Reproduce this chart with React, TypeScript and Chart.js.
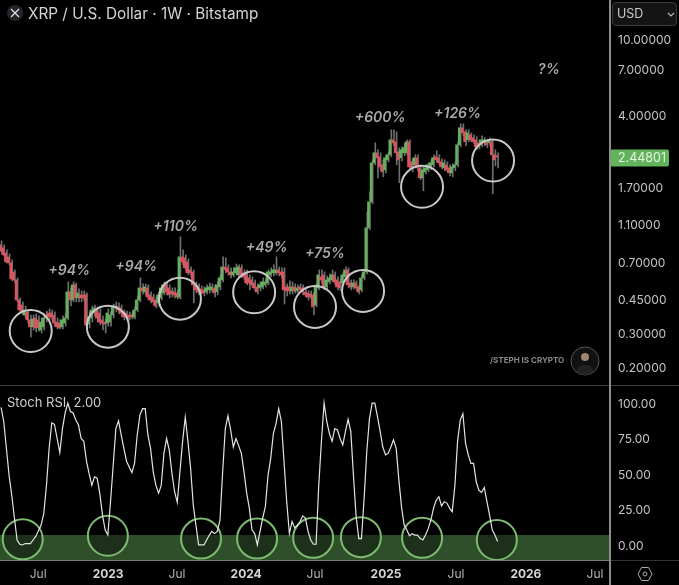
import { useEffect, useRef } from 'react';
import { Chart, registerables } from 'chart.js';

Chart.register(...registerables);

const FONT = 'Inter, "Noto Sans", sans-serif';

// weekly candles
const opens = [
  .859, .829, .780, .744, .693, .622, .565, .445, .419, .372, .386, .351, .323, .359, .351, .311, .323, .359, .381, .381,
  .372, .342, .338, .323, .338, .359, .490, .445, .533, .456, .473, .473, .473, .334, .359, .381, .395, .381, .351, .342,
  .338, .342, .372, .405, .410, .405, .381, .381, .372, .372, .363, .395, .445, .514, .490, .514, .473, .461, .445, .430,
  .456, .484, .533, .514, .496, .490, .484, .461, .744, .735, .701, .637, .622, .533, .520, .508, .502, .490, .502, .502,
  .514, .490, .520, .565, .660, .653, .622, .600, .615, .600, .653, .615, .615, .579, .565, .545, .520, .514, .520, .533,
  .545, .600, .615, .615, .637, .622, .622, .520, .520, .496, .520, .496, .520, .514, .490, .484, .478, .473, .419, .514,
  .586, .600, .520, .552, .565, .600, .565, .552, .545, .586, .637, .545, .520, .545, .520, .502, .579, .622, 1.052, 1.434,
  2.285, 2.575, 2.455, 2.231, 2.10, 2.368, 2.515, 3.007, 2.936, 2.606, 2.426, 2.575, 2.575, 2.936, 2.312, 2.231, 2.426, 2.152, 1.91, 2.052,
  2.10, 2.152, 2.231, 2.455, 2.426, 2.312, 2.152, 2.231, 2.152, 2.027, 2.152, 2.231, 2.834, 3.47, 3.309, 3.007, 3.193, 3.08, 3.007, 2.90,
  2.834, 2.90, 2.936, 2.90, 2.936, 2.515, 2.49,
];
const closes = [
  .799, .762, .701, .693, .572, .565, .445, .395, .386, .395, .351, .323, .355, .319, .319, .342, .359, .372, .363, .363,
  .338, .323, .319, .351, .359, .490, .445, .533, .456, .484, .456, .456, .330, .363, .395, .405, .359, .342, .338, .334,
  .381, .372, .410, .414, .395, .381, .363, .363, .359, .363, .395, .445, .514, .496, .520, .461, .445, .435, .414, .473,
  .514, .533, .490, .473, .478, .473, .461, .744, .701, .653, .615, .615, .533, .502, .490, .490, .484, .514, .520, .520,
  .484, .533, .579, .660, .637, .622, .600, .622, .653, .660, .600, .586, .545, .545, .533, .514, .490, .533, .552, .552,
  .622, .622, .637, .637, .615, .600, .502, .496, .496, .520, .496, .514, .502, .490, .473, .461, .461, .410, .520, .600,
  .565, .520, .565, .579, .600, .552, .520, .514, .600, .637, .533, .520, .545, .514, .490, .579, .622, 1.052, 1.434, 2.285,
  2.575, 2.426, 2.178, 2.052, 2.426, 2.515, 3.007, 2.90, 2.575, 2.368, 2.67, 2.733, 2.936, 2.178, 2.152, 2.426, 2.152, 1.91, 2.10, 2.152,
  2.231, 2.285, 2.426, 2.368, 2.285, 2.178, 2.285, 2.10, 2.027, 2.178, 2.231, 2.834, 3.47, 3.27, 2.936, 3.27, 3.007, 2.936, 2.766, 2.766,
  3.007, 3.007, 2.834, 3.007, 2.515, 2.368, 2.448,
];
const highs = [
  .901, .859, .809, .771, .718, .637, .579, .456, .435, .414, .395, .372, .372, .377, .368, .359, .377, .390, .400, .395,
  .386, .359, .351, .368, .377, .552, .514, .552, .545, .508, .496, .496, .484, .386, .414, .419, .410, .400, .368, .355,
  .400, .386, .424, .435, .430, .419, .395, .390, .386, .381, .410, .467, .579, .539, .539, .533, .490, .478, .461, .490,
  .533, .552, .545, .533, .514, .514, .502, .945, .809, .762, .726, .660, .637, .552, .539, .526, .520, .533, .545, .539,
  .533, .552, .600, .744, .735, .676, .653, .653, .684, .676, .676, .637, .637, .600, .586, .565, .539, .552, .579, .572,
  .637, .653, .676, .744, .660, .653, .653, .539, .559, .552, .539, .533, .539, .533, .508, .496, .496, .484, .539, .637,
  .637, .622, .593, .607, .637, .622, .586, .572, .615, .660, .653, .565, .565, .559, .533, .600, .637, 1.273, 1.616, 2.368,
  2.90, 2.67, 2.575, 2.368, 2.515, 2.606, 3.39, 3.39, 3.309, 2.733, 2.766, 2.868, 3.007, 3.007, 2.397, 2.515, 2.515, 2.231, 2.178, 2.231,
  2.285, 2.368, 2.515, 2.638, 2.515, 2.397, 2.368, 2.312, 2.231, 2.258, 2.312, 2.936, 3.64, 3.64, 3.39, 3.39, 3.27, 3.193, 3.117, 3.007,
  3.155, 3.08, 3.007, 3.08, 3.007, 2.67, 2.575,
];
const lows = [
  .790, .753, .693, .676, .559, .552, .435, .381, .372, .359, .338, .286, .311, .304, .307, .300, .311, .342, .351, .351,
  .326, .315, .315, .315, .326, .351, .414, .435, .435, .435, .435, .440, .319, .319, .342, .368, .342, .330, .311, .300,
  .326, .326, .359, .386, .377, .368, .351, .355, .351, .355, .355, .386, .435, .478, .473, .445, .430, .419, .405, .414,
  .445, .473, .473, .456, .461, .456, .451, .451, .676, .637, .600, .586, .430, .484, .473, .478, .467, .478, .484, .490,
  .461, .473, .502, .552, .615, .600, .579, .586, .600, .586, .579, .565, .533, .502, .514, .496, .478, .496, .508, .520,
  .533, .586, .593, .600, .593, .579, .424, .467, .478, .478, .484, .484, .490, .473, .461, .445, .451, .372, .410, .502,
  .545, .502, .508, .539, .552, .533, .502, .496, .533, .572, .514, .502, .508, .502, .478, .490, .565, .607, 1.03, 1.40,
  2.231, 1.91, 2.10, 1.933, 2.027, 2.312, 2.455, 2.80, 2.231, 1.80, 2.34, 2.485, 2.515, 2.10, 2.052, 2.152, 2.076, 1.87, 1.636, 2.00,
  2.052, 2.10, 2.178, 2.312, 2.231, 2.127, 2.076, 2.052, 1.956, 1.933, 2.076, 2.178, 2.766, 3.155, 2.80, 2.936, 2.936, 2.868, 2.67, 2.70,
  2.766, 2.80, 2.733, 2.80, 1.579, 2.204, 2.152,
];

const stochValues = [
  97, 87, 68, 49, 35, 19, 3.5, 0.5, 0, 1, 1, 1, 3.5, 6, 10, 14, 22, 42, 68, 86,
  85, 75, 65, 82, 93, 100, 94, 93, 88, 84.5, 75, 73, 59, 50, 42, 48, 47, 36, 21, 10.5,
  7, 30.5, 56, 82, 87.5, 77.5, 68, 59, 55, 51, 57.5, 77.5, 91.5, 96, 96, 77.5, 68, 51.5, 42, 36.5,
  42, 64.5, 75, 67, 50.5, 37.5, 30, 51.5, 73, 90, 73, 54, 28, 14, 0, 0, 0, 3.5, 7, 9.5,
  8, 9.5, 17.5, 51.5, 82, 91, 81, 69, 75, 70, 64.5, 51.5, 36.5, 26, 10.5, 8, 0, 9.5, 19, 27,
  49, 61, 78.5, 85.5, 96, 87, 58.5, 30.5, 8, 16.5, 12, 14, 16.5, 20.5, 19, 9.5, 3.5, 0.5, 0.5, 42,
  73, 100, 87, 78.5, 73, 82, 81, 75, 70.5, 80, 88.5, 80, 49, 20, 4.5, 4.5, 33, 66, 89, 100,
  100, 90.5, 80, 69, 63.5, 64.5, 69, 74, 68, 46, 27, 14, 10.5, 6.5, 8, 7, 7, 4.5, 3.5, 7,
  11.5, 17.5, 26, 31.5, 34, 27.5, 30.5, 29.5, 26, 23.5, 42, 73, 88, 92.5, 71.5, 63.5, 57.5, 57.5, 44.5, 38.5,
  37, 40.5, 30.5, 21, 10.5, 7, 2.5,
];

const lastPrice = 2.44801;

const priceTicks = [10, 7, 4, 1.7, 1.1, 0.7, 0.45, 0.3, 0.2];
const stochTicks = [100, 75, 50, 25, 0];
const timeTickWeeks = [13.9, 40.1, 65.9, 91.8, 117.6, 144.2, 170.4, 196.6, 222.5];
const timeTickLabels = ['Jul', '2023', 'Jul', '2024', 'Jul', '2025', 'Jul', '2026', 'Jul'];

// marked lows on the price pane and the oscillator pane
const priceCircleWeeks = [11.1, 40, 67, 94.8, 117.6, 135.6, 157.7, 184.3];
const priceCircleValues = [.3074, .3237, .452, .488, .4095, .4957, 1.716, 2.348];
const stochCircleWeeks = [8.1, 40, 74.9, 95.9, 116.9, 134.8, 157.7, 185.7];
const stochCircleValues = [4, 6.5, 4.5, 4.5, 5, 5.5, 5, 3.5];

const moveLabels = ['+94%', '+94%', '+110%', '+49%', '+75%', '+600%', '+126%', '?%'];
const moveWeeks = [25.5, 50.6, 65.4, 99.5, 121.3, 142, 171, 205.2];
const movePrices = [.63, .663, 1.06, .833, .771, 3.91, 4.1, 6.94];

const X_MIN = -0.4;
const X_MAX = 228.1;
const STOCH_MIN = -11.3;
const STOCH_MAX = 112.7;
const BAND_TOP = 7;

const UP = '#62b35c';
const DOWN = '#dd5460';

const isYearTick = (c: any) => {
  const label = timeTickLabels[timeTickWeeks.indexOf(c.tick?.value)];
  return !!label && label !== 'Jul';
};

// fixed width axis, and no room kept for half a label above and below the plot
const fitRightAxis = (scale: any) => {
  scale.width = 69;
  scale.paddingTop = 0;
  scale.paddingBottom = 0;
};

const priceOverlay = {
  id: 'priceOverlay',
  afterDatasetsDraw(chart: any) {
    const { ctx, scales } = chart;
    ctx.save();
    ctx.font = `italic 600 14px ${FONT}`;
    ctx.fillStyle = '#a9a9a9';
    ctx.textAlign = 'center';
    ctx.textBaseline = 'middle';
    moveLabels.forEach((t, i) => {
      ctx.fillText(t, scales.x.getPixelForValue(moveWeeks[i]), scales.y.getPixelForValue(movePrices[i]));
    });
    ctx.restore();
  },
  afterDraw(chart: any) {
    const { ctx, scales } = chart;
    const y = scales.y.getPixelForValue(lastPrice) + 1;
    ctx.save();
    ctx.fillStyle = UP;
    ctx.beginPath();
    ctx.roundRect(610, y - 8.5, 59, 17, 2);
    ctx.fill();
    ctx.font = `12.5px ${FONT}`;
    ctx.fillStyle = '#e6f4e3';
    ctx.textBaseline = 'middle';
    ctx.fillText(lastPrice.toFixed(5), 618, y + 0.5);
    ctx.restore();
  },
};

function PriceChart() {
  const ref = useRef<HTMLCanvasElement>(null);
  useEffect(() => {
    if (!ref.current) return;
    const chart = new Chart(ref.current, {
      type: 'bar',
      data: {
        datasets: [
          {
            type: 'scatter',
            data: priceCircleWeeks.map((x, i) => ({ x, y: priceCircleValues[i] })),
            pointRadius: 21,
            pointBorderWidth: 2,
            pointBorderColor: '#c9c9c9',
            pointBackgroundColor: 'transparent',
            order: 1,
          },
          {
            data: opens.map((o, i) => ({ x: i, y: [o, closes[i]] })),
            backgroundColor: opens.map((o, i) => (closes[i] >= o ? UP : DOWN)),
            barThickness: 2,
            order: 2,
          },
          {
            data: lows.map((l, i) => ({ x: i, y: [l, highs[i]] })),
            backgroundColor: '#6f6f6f',
            barThickness: 1,
            order: 3,
          },
        ],
      } as any,
      options: {
        animation: false,
        responsive: false,
        events: [],
        layout: { padding: 0, autoPadding: false },
        plugins: { legend: { display: false }, tooltip: { enabled: false } },
        scales: {
          x: { type: 'linear', display: false, min: X_MIN, max: X_MAX, offset: false },
          y: {
            type: 'logarithmic',
            position: 'right',
            min: 0.1614,
            max: 15.93,
            grid: { display: false, drawTicks: false },
            border: { display: false },
            afterFit: fitRightAxis,
            afterBuildTicks(scale: any) {
              scale.ticks = priceTicks.map((value) => ({ value }));
            },
            ticks: {
              color: '#c4c4c4',
              padding: 8,
              labelOffset: 1,
              font: { family: FONT, size: 12 },
              autoSkip: false,
              callback: (v: any) => Number(v).toFixed(5),
            },
          },
        },
      } as any,
      plugins: [priceOverlay],
    });
    return () => chart.destroy();
  }, []);
  return <canvas ref={ref} width={679} height={385} style={{ position: 'absolute', left: 0, top: 0 }} />;
}

function StochChart() {
  const ref = useRef<HTMLCanvasElement>(null);
  useEffect(() => {
    if (!ref.current) return;
    const chart = new Chart(ref.current, {
      type: 'line',
      data: {
        datasets: [
          {
            data: stochValues.map((y, x) => ({ x, y })),
            borderColor: '#e4e4e4',
            borderWidth: 1.2,
            pointRadius: 0,
            tension: 0,
            order: 1,
          },
          {
            type: 'scatter',
            data: stochCircleWeeks.map((x, i) => ({ x, y: stochCircleValues[i] })),
            pointRadius: 20,
            pointBorderWidth: 2,
            pointBorderColor: '#7dbb72',
            pointBackgroundColor: 'rgba(0,0,0,0.38)',
            order: 2,
          },
          {
            data: [
              { x: X_MIN, y: BAND_TOP },
              { x: X_MAX, y: BAND_TOP },
            ],
            borderWidth: 0,
            pointRadius: 0,
            fill: { value: STOCH_MIN },
            backgroundColor: '#2f4f2a',
            order: 3,
          },
        ],
      } as any,
      options: {
        animation: false,
        responsive: false,
        events: [],
        layout: { padding: 0, autoPadding: false },
        plugins: { legend: { display: false }, tooltip: { enabled: false } },
        scales: {
          x: {
            type: 'linear',
            min: X_MIN,
            max: X_MAX,
            grid: { display: false, drawTicks: false },
            border: { display: false },
            afterFit(scale: any) {
              scale.height = 24;
              scale.paddingLeft = 0;
              scale.paddingRight = 0;
            },
            afterBuildTicks(scale: any) {
              scale.ticks = timeTickWeeks.map((value) => ({ value }));
            },
            ticks: {
              autoSkip: false,
              maxRotation: 0,
              padding: 6,
              color: (c: any) => (isYearTick(c) ? '#d6d6d6' : '#b5b5b5'),
              font: (c: any) =>
                isYearTick(c) ? { family: FONT, size: 12, weight: '700' } : { family: FONT, size: 12 },
              callback: (v: any) => timeTickLabels[timeTickWeeks.indexOf(v)],
            },
          },
          y: {
            type: 'linear',
            position: 'right',
            min: STOCH_MIN,
            max: STOCH_MAX,
            grid: { display: false, drawTicks: false },
            border: { display: false },
            afterFit: fitRightAxis,
            afterBuildTicks(scale: any) {
              scale.ticks = stochTicks.map((value) => ({ value }));
            },
            ticks: {
              color: '#c4c4c4',
              padding: 8,
              labelOffset: 1,
              font: { family: FONT, size: 12 },
              callback: (v: any) => Number(v).toFixed(2),
            },
          },
        },
      } as any,
    });
    return () => chart.destroy();
  }, []);
  return <canvas ref={ref} width={679} height={200} style={{ position: 'absolute', left: 0, top: 385 }} />;
}

const rule = (left: number, top: number, width: number, height: number, background: string) => (
  <div style={{ position: 'absolute', left, top, width, height, background }} />
);

export default function App() {
  useEffect(() => {
    document.body.style.margin = '0';
    document.body.style.background = '#000';
  }, []);

  return (
    <div style={{ position: 'fixed', left: 0, top: 0, width: 679, height: 585, background: '#000', overflow: 'hidden', fontFamily: FONT }}>
      <PriceChart />
      <StochChart />

      {rule(0, 385, 679, 1, '#3d3d3d')}
      {rule(0, 560, 610, 1, '#7a7a7a')}
      {rule(610, 560, 69, 1, '#333')}
      {rule(609, 0, 2, 585, '#8d8d8d')}

      {/* symbol badge and title */}
      <svg width={16} height={16} style={{ position: 'absolute', left: 7, top: 5 }}>
        <circle cx={8} cy={8} r={8} fill="#23262b" />
        <path d="M4 4 L12 12 M12 4 L4 12" stroke="#e0e0e0" strokeWidth={1.2} />
      </svg>
      <div style={{ position: 'absolute', left: 28, top: 4, fontSize: 15.3, lineHeight: '19px', color: '#d4d4d4', whiteSpace: 'nowrap' }}>
        XRP / U.S. Dollar · 1W · Bitstamp
      </div>
      <div style={{ position: 'absolute', left: 7, top: 394, fontSize: 13, lineHeight: '16px', color: '#cfcfcf', whiteSpace: 'pre' }}>
        Stoch RSI  2.00
      </div>

      {/* currency select */}
      <div style={{ position: 'absolute', left: 612, top: 2, width: 63, height: 22, border: '1px solid #3a3a3a', borderRadius: 4, background: '#141414' }}>
        <span style={{ position: 'absolute', left: 4, top: 3, fontSize: 12.5, lineHeight: '16px', color: '#c8c8c8' }}>USD</span>
        <svg width={8} height={6} style={{ position: 'absolute', left: 54, top: 9 }}>
          <path d="M1 1 L4 4 L7 1" stroke="#bbb" strokeWidth={1.2} fill="none" />
        </svg>
      </div>

      {/* watermark */}
      <div style={{ position: 'absolute', left: 490, top: 355, fontSize: 8, fontWeight: 700, lineHeight: '10px', color: '#8a8a8a', whiteSpace: 'nowrap' }}>
        /STEPH IS CRYPTO
      </div>
      <svg width={30} height={30} style={{ position: 'absolute', left: 570, top: 346 }}>
        <circle cx={15} cy={15} r={14} fill="#111" stroke="#555" />
        <ellipse cx={15} cy={24} rx={8} ry={5} fill="#222" />
        <circle cx={15} cy={11} r={4} fill="#a08670" />
      </svg>

      {/* settings hex */}
      <svg width={16} height={16} style={{ position: 'absolute', left: 637, top: 566 }}>
        <path d="M4.5 1.5 H11.5 L15 8 L11.5 14.5 H4.5 L1 8 Z" stroke="#aaa" fill="none" />
        <circle cx={8} cy={8} r={2} stroke="#aaa" fill="none" />
      </svg>
    </div>
  );
}
